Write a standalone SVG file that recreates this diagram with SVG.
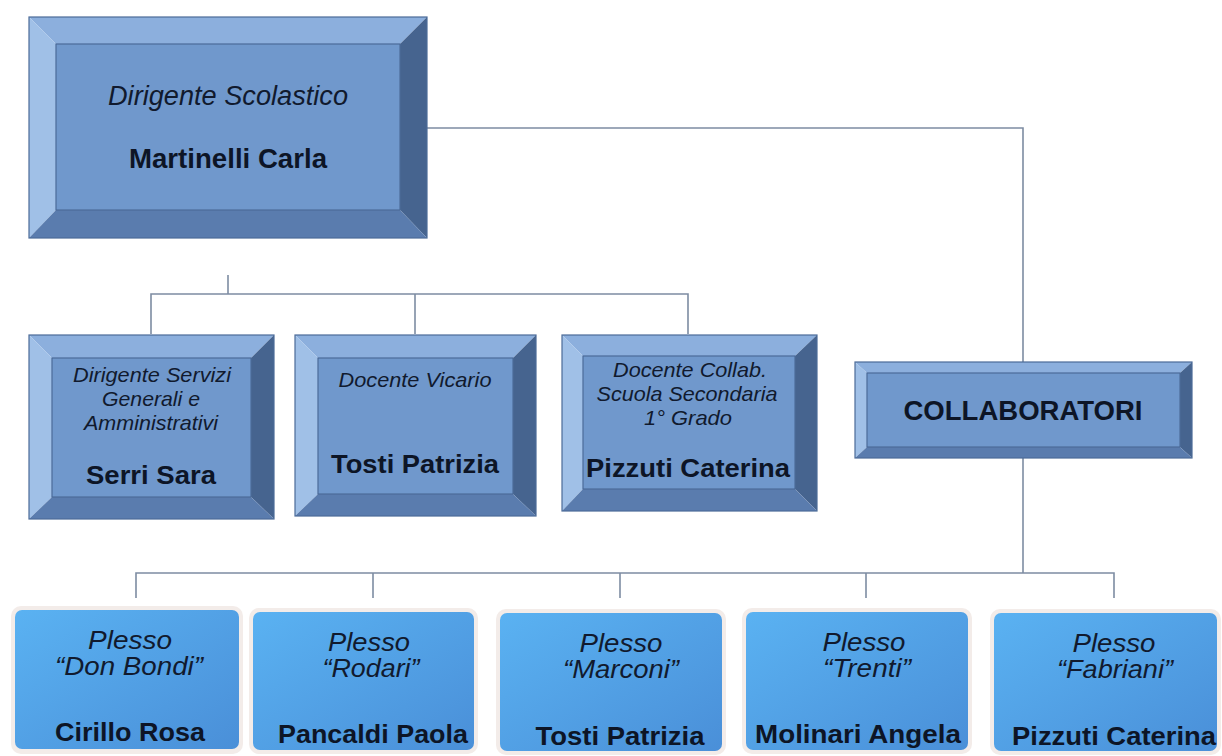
<svg xmlns="http://www.w3.org/2000/svg" width="1222" height="756" viewBox="0 0 1222 756">
<defs>
<linearGradient id="plGrad" x1="0" y1="0" x2="1" y2="1">
<stop offset="0" stop-color="#5ab2f2"/>
<stop offset="1" stop-color="#4a8fd8"/>
</linearGradient>
<style>
.bt{fill:#8cafdd}.bl{fill:#a0c0e7}.br{fill:#46648f}.bb{fill:#5a7cae}.bf{fill:#7098cc}
.edge{fill:none;stroke:#4b6b98;stroke-width:1.2}
.halo{fill:#f3ece9}
.pl{fill:url(#plGrad)}
.conn{fill:none;stroke:#7d8ca2;stroke-width:1.6}
.it{font-family:"Liberation Sans",Arial,sans-serif;font-style:italic;fill:#111a2e;text-anchor:middle}
.bd{font-family:"Liberation Sans",Arial,sans-serif;font-weight:bold;fill:#0d1526;text-anchor:middle}
</style>
</defs>
<rect width="1222" height="756" fill="#ffffff"/>

<g id="connectors">
<polyline class="conn" points="427,128 1023,128 1023,362"/>
<line class="conn" x1="228" y1="275" x2="228" y2="294"/>
<polyline class="conn" points="151,334 151,294 688,294 688,334"/>
<line class="conn" x1="415" y1="294" x2="415" y2="334"/>
<line class="conn" x1="1023" y1="458" x2="1023" y2="573"/>
<polyline class="conn" points="136,598 136,573 1114,573 1114,598"/>
<line class="conn" x1="373" y1="573" x2="373" y2="598"/>
<line class="conn" x1="620" y1="573" x2="620" y2="598"/>
<line class="conn" x1="866" y1="573" x2="866" y2="598"/>
</g>

<g id="dirigente">
<polygon class="bt" points="29,17 427,17 400,44 56,44"/>
<polygon class="bl" points="29,17 56,44 56,210 29,238"/>
<polygon class="br" points="427,17 427,238 400,210 400,44"/>
<polygon class="bb" points="29,238 56,210 400,210 427,238"/>
<rect class="bf" x="56" y="44" width="344" height="166"/>
<rect class="edge" x="29" y="17" width="398" height="221"/>
<rect class="edge" x="56" y="44" width="344" height="166"/>
<text class="it" x="228" y="105" font-size="27" textLength="240" lengthAdjust="spacingAndGlyphs">Dirigente Scolastico</text>
<text class="bd" x="228" y="168" font-size="27" textLength="198" lengthAdjust="spacingAndGlyphs">Martinelli Carla</text>
</g>

<g id="dsga">
<polygon class="bt" points="29,335 274,335 251,358 52,358"/>
<polygon class="bl" points="29,335 52,358 52,497 29,519"/>
<polygon class="br" points="274,335 274,519 251,497 251,358"/>
<polygon class="bb" points="29,519 52,497 251,497 274,519"/>
<rect class="bf" x="52" y="358" width="199" height="139"/>
<rect class="edge" x="29" y="335" width="245" height="184"/>
<rect class="edge" x="52" y="358" width="199" height="139"/>
<text class="it" x="152" y="382" font-size="21" textLength="158" lengthAdjust="spacingAndGlyphs">Dirigente Servizi</text>
<text class="it" x="151" y="406" font-size="21" textLength="98" lengthAdjust="spacingAndGlyphs">Generali e</text>
<text class="it" x="151" y="430" font-size="21" textLength="134" lengthAdjust="spacingAndGlyphs">Amministrativi</text>
<text class="bd" x="151" y="484" font-size="26" textLength="130" lengthAdjust="spacingAndGlyphs">Serri Sara</text>
</g>

<g id="vicario">
<polygon class="bt" points="295,335 536,335 513,358 318,358"/>
<polygon class="bl" points="295,335 318,358 318,494 295,516"/>
<polygon class="br" points="536,335 536,516 513,494 513,358"/>
<polygon class="bb" points="295,516 318,494 513,494 536,516"/>
<rect class="bf" x="318" y="358" width="195" height="136"/>
<rect class="edge" x="295" y="335" width="241" height="181"/>
<rect class="edge" x="318" y="358" width="195" height="136"/>
<text class="it" x="415" y="387" font-size="21" textLength="153" lengthAdjust="spacingAndGlyphs">Docente Vicario</text>
<text class="bd" x="415" y="473" font-size="26" textLength="168" lengthAdjust="spacingAndGlyphs">Tosti Patrizia</text>
</g>

<g id="collab-secondaria">
<polygon class="bt" points="562,335 817,335 795,356 583,356"/>
<polygon class="bl" points="562,335 583,356 583,489 562,511"/>
<polygon class="br" points="817,335 817,511 795,489 795,356"/>
<polygon class="bb" points="562,511 583,489 795,489 817,511"/>
<rect class="bf" x="583" y="356" width="212" height="133"/>
<rect class="edge" x="562" y="335" width="255" height="176"/>
<rect class="edge" x="583" y="356" width="212" height="133"/>
<text class="it" x="690" y="377" font-size="21" textLength="154" lengthAdjust="spacingAndGlyphs">Docente Collab.</text>
<text class="it" x="687" y="401" font-size="21" textLength="181" lengthAdjust="spacingAndGlyphs">Scuola Secondaria</text>
<text class="it" x="688" y="425" font-size="21" textLength="88" lengthAdjust="spacingAndGlyphs">1° Grado</text>
<text class="bd" x="688" y="477" font-size="26" textLength="204" lengthAdjust="spacingAndGlyphs">Pizzuti Caterina</text>
</g>

<g id="collaboratori">
<polygon class="bt" points="855,362 1192,362 1180,373 867,373"/>
<polygon class="bl" points="855,362 867,373 867,447 855,458"/>
<polygon class="br" points="1192,362 1192,458 1180,447 1180,373"/>
<polygon class="bb" points="855,458 867,447 1180,447 1192,458"/>
<rect class="bf" x="867" y="373" width="313" height="74"/>
<rect class="edge" x="855" y="362" width="337" height="96"/>
<rect class="edge" x="867" y="373" width="313" height="74"/>
<text class="bd" x="1023" y="420" font-size="27" textLength="239" lengthAdjust="spacingAndGlyphs">COLLABORATORI</text>
</g>

<g id="plesso-donbondi">
<rect class="halo" x="11" y="606" width="232" height="148" rx="10"/>
<rect class="pl" x="15" y="610" width="224" height="139" rx="7"/>
<text class="it" x="130" y="649" font-size="25" textLength="84" lengthAdjust="spacingAndGlyphs">Plesso</text>
<text class="it" x="129" y="675" font-size="25" textLength="148" lengthAdjust="spacingAndGlyphs">“Don Bondi”</text>
<text class="bd" x="130" y="741" font-size="26" textLength="150" lengthAdjust="spacingAndGlyphs">Cirillo Rosa</text>
</g>

<g id="plesso-rodari">
<rect class="halo" x="249" y="608" width="229" height="146" rx="10"/>
<rect class="pl" x="253" y="612" width="221" height="138" rx="7"/>
<text class="it" x="369" y="651" font-size="25" textLength="82" lengthAdjust="spacingAndGlyphs">Plesso</text>
<text class="it" x="371" y="677" font-size="25" textLength="97" lengthAdjust="spacingAndGlyphs">“Rodari”</text>
<text class="bd" x="373" y="743" font-size="26" textLength="190" lengthAdjust="spacingAndGlyphs">Pancaldi Paola</text>
</g>

<g id="plesso-marconi">
<rect class="halo" x="496" y="609" width="230" height="146" rx="10"/>
<rect class="pl" x="500" y="613" width="222" height="138" rx="7"/>
<text class="it" x="621" y="652" font-size="25" textLength="83" lengthAdjust="spacingAndGlyphs">Plesso</text>
<text class="it" x="621" y="678" font-size="25" textLength="116" lengthAdjust="spacingAndGlyphs">“Marconi”</text>
<text class="bd" x="620" y="745" font-size="26" textLength="169" lengthAdjust="spacingAndGlyphs">Tosti Patrizia</text>
</g>

<g id="plesso-trenti">
<rect class="halo" x="742" y="608" width="230" height="146" rx="10"/>
<rect class="pl" x="746" y="612" width="222" height="138" rx="7"/>
<text class="it" x="864" y="651" font-size="25" textLength="83" lengthAdjust="spacingAndGlyphs">Plesso</text>
<text class="it" x="867" y="677" font-size="25" textLength="88" lengthAdjust="spacingAndGlyphs">“Trenti”</text>
<text class="bd" x="858" y="743" font-size="26" textLength="206" lengthAdjust="spacingAndGlyphs">Molinari Angela</text>
</g>

<g id="plesso-fabriani">
<rect class="halo" x="990" y="609" width="231" height="146" rx="10"/>
<rect class="pl" x="994" y="613" width="223" height="138" rx="7"/>
<text class="it" x="1114" y="652" font-size="25" textLength="83" lengthAdjust="spacingAndGlyphs">Plesso</text>
<text class="it" x="1115" y="678" font-size="25" textLength="116" lengthAdjust="spacingAndGlyphs">“Fabriani”</text>
<text class="bd" x="1114" y="745" font-size="26" textLength="204" lengthAdjust="spacingAndGlyphs">Pizzuti Caterina</text>
</g>
</svg>
